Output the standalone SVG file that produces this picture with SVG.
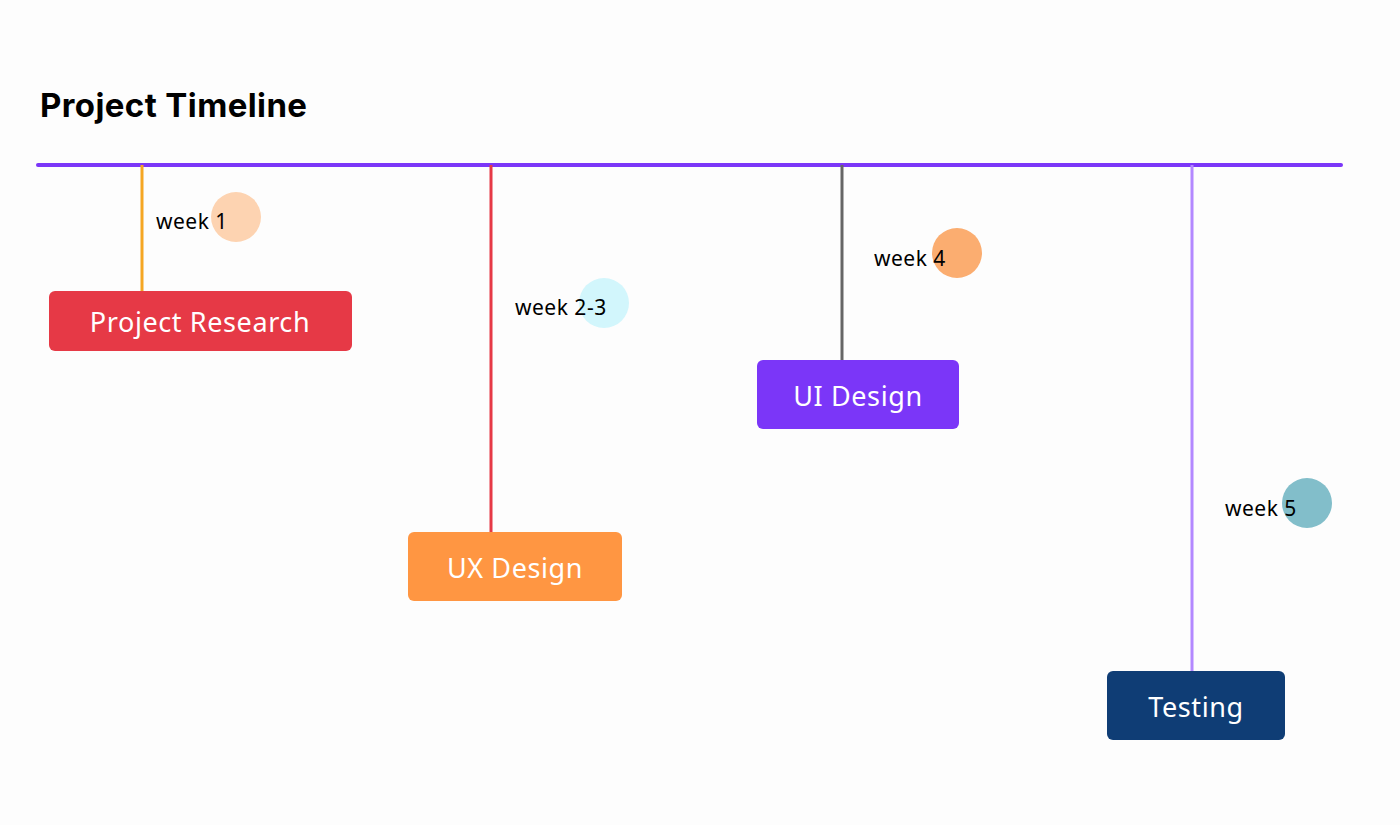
<svg xmlns="http://www.w3.org/2000/svg" width="1400" height="825" viewBox="0 0 1400 825">
  <style>
    .title { font-family: "Inter", "Liberation Sans", sans-serif; font-weight: 700; font-size: 33px; letter-spacing: 0.4px; fill: #000; }
    .box-label { font-family: "Noto Sans", "Open Sans", sans-serif; font-size: 27px; letter-spacing: 0.6px; fill: #fff; text-anchor: middle; }
    .week { font-family: "Noto Sans", "Open Sans", sans-serif; font-size: 21px; letter-spacing: 0.5px; fill: #000; }
    .tick { stroke-width: 3; fill: none; }
  </style>
  <rect width="1400" height="825" fill="#fdfdfd"/>
  <text class="title" x="40" y="117">Project Timeline</text>

  <g id="connectors">
    <line x1="38" y1="165" x2="1341" y2="165" stroke="#7b36f8" stroke-width="4" stroke-linecap="round"/>
    <line class="tick" x1="142" y1="165" x2="142" y2="292" stroke="#f5a623"/>
    <line class="tick" x1="491" y1="165" x2="491" y2="533" stroke="#e63946"/>
    <line class="tick" x1="842" y1="165" x2="842" y2="361" stroke="#666666"/>
    <line class="tick" x1="1192" y1="165" x2="1192" y2="672" stroke="#b388ff"/>
  </g>

  <g id="week1">
    <circle cx="236" cy="217" r="25" fill="#fdd3b1"/>
    <text class="week" x="156" y="229">week 1</text>
  </g>
  <g id="project-research">
    <rect x="49" y="291" width="303" height="60" rx="6" fill="#e63946"/>
    <text class="box-label" x="200" y="332">Project Research</text>
  </g>

  <g id="week2-3">
    <circle cx="604" cy="303" r="25" fill="#d2f6fc"/>
    <text class="week" x="515" y="315">week 2-3</text>
  </g>
  <g id="ux-design">
    <rect x="408" y="532" width="214" height="69" rx="6" fill="#ff9642"/>
    <text class="box-label" x="515" y="578">UX Design</text>
  </g>

  <g id="week4">
    <circle cx="957" cy="253" r="25" fill="#fbad70"/>
    <text class="week" x="874" y="266">week 4</text>
  </g>
  <g id="ui-design">
    <rect x="757" y="360" width="202" height="69" rx="6" fill="#7b36f8"/>
    <text class="box-label" x="858" y="406">UI Design</text>
  </g>

  <g id="week5">
    <circle cx="1307" cy="503" r="25" fill="#82beca"/>
    <text class="week" x="1225" y="516">week 5</text>
  </g>
  <g id="testing">
    <rect x="1107" y="671" width="178" height="69" rx="6" fill="#0f3d75"/>
    <text class="box-label" x="1196" y="717">Testing</text>
  </g>
</svg>
